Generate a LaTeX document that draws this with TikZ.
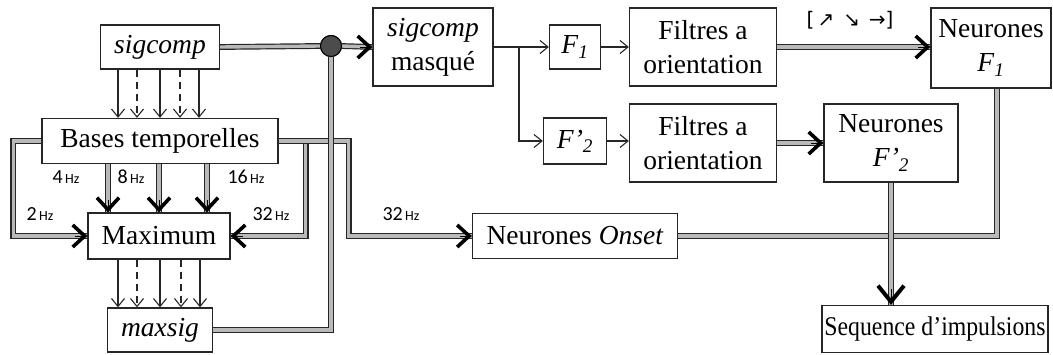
\documentclass[tikz,border=0pt]{standalone}
\usepackage{fontspec}
\setmainfont{Liberation Serif}
\newfontfamily\lblfont{Carlito}
\newfontfamily\symfont{DejaVu Sans}
\usetikzlibrary{arrows.meta,calc}
\newcommand\hzu{{\fontsize{14}{15}\selectfont\,Hz}}
\tikzset{
 box/.style={draw=black!85, line width=1.3pt, inner sep=0pt, align=center, font=\fontsize{27.5}{34}\selectfont},
 thinarr/.style={draw=black!85, line width=1.1pt, -{Straight Barb[length=8pt,width=13pt,line width=1.1pt]}},
 dashedarr/.style={thinarr, dash pattern=on 7pt off 5pt},
 dbl/.style={draw=black!85, line width=1.2pt, double=gray!55, double distance=3.4pt},
 bigtip/.style={draw=black, line width=0.3pt, -{Straight Barb[length=12pt,width=22pt,line width=3.6pt]}},
 hugetip/.style={draw=black, line width=0.3pt, -{Straight Barb[length=16pt,width=26pt,line width=4pt]}},
 lbl/.style={font=\lblfont\fontsize{20}{22}\selectfont, inner sep=0pt},
}
\begin{document}
\begin{tikzpicture}[x=1pt,y=-1pt]
\useasboundingbox (0,0) rectangle (1053,354);
% nodes
\node[box, minimum width=119pt, minimum height=44pt] (sigcomp) at (160,47) {\textit{sigcomp}};
\node[box, minimum width=236pt, minimum height=45pt] (bases) at (160,141) {Bases temporelles};
\node[box, minimum width=142pt, minimum height=46pt] (maximum) at (159,236) {Maximum};
\node[box, minimum width=105pt, minimum height=44pt] (maxsig) at (160,330) {\textit{maxsig}};
\node[box, minimum width=120pt, minimum height=78pt] (masque) at (433,47) {\textit{sigcomp}\\masqué};
\node[box, minimum width=51pt, minimum height=44pt] (F1) at (575,47) {\textit{F}\textsubscript{\textit{1}}};
\node[box, minimum width=147pt, minimum height=78pt] (filt1) at (703,47) {Filtres a\\orientation};
\node[box, minimum width=120pt, minimum height=80pt] (nF1) at (991,48) {Neurones\\\textit{F}\textsubscript{\textit{1}}};
\node[box, minimum width=63pt, minimum height=46pt] (F2) at (575,141) {\textit{F'}\textsubscript{\textit{2}}};
\node[box, minimum width=147pt, minimum height=78pt] (filt2) at (703,143) {Filtres a\\orientation};
\node[box, minimum width=134pt, minimum height=78pt] (nF2) at (891,143) {Neurones\\\textit{F'}\textsubscript{\textit{2}}};
\node[box, minimum width=205pt, minimum height=45pt] (onset) at (575,236) {Neurones \textit{Onset}};
\node[box, minimum width=226pt, minimum height=47pt, font=\fontsize{27}{30}\selectfont] (seq) at (935,329) {\scalebox{0.88}[1]{Sequence d'impulsions}};
% thin arrows
\foreach \x/\s in {118/thinarr,137/dashedarr,160/thinarr,180/dashedarr,199/thinarr}
  \draw[\s] (\x,0 |- sigcomp.south) -- (\x,0 |- bases.north);
\foreach \x/\s in {118/thinarr,137/dashedarr,160/thinarr,181/dashedarr,200/thinarr}
  \draw[\s] (\x,0 |- maximum.south) -- (\x,0 |- maxsig.north);
% bases -> maximum
\draw[dbl] (bases.west) -- ++(-28,0) |- (maximum.west);
\draw[bigtip] ([xshift=-12pt]maximum.west) -- (maximum.west);
\foreach \x in {108,159,207}{
  \draw[dbl] (\x,0 |- bases.south) -- (\x,0 |- maximum.north);
  \draw[bigtip] ($(\x,0 |- maximum.north)+(0,-12)$) -- (\x,0 |- maximum.north);
}
\draw[dbl] (bases.east) -- ++(27,0) |- (maximum.east);
\draw[bigtip] ([xshift=12pt]maximum.east) -- (maximum.east);
\draw[dbl] (bases.east) -- ++(70,0) |- (onset.west);
\draw[bigtip] ([xshift=-12pt]onset.west) -- (onset.west);
% dot
\node[circle, draw=black, fill=black!70, line width=1pt, minimum size=21pt, inner sep=0pt] (dot) at (331,46) {};
\draw[dbl] (maxsig.east) -| (dot.south);
\draw[dbl] (sigcomp.east) -- (dot.west);
\draw[dbl] (dot.east) -- (masque.west);
\draw[bigtip] ([xshift=-12pt]masque.west) -- (masque.west);
\node[circle, draw=black, fill=black!70, line width=1pt, minimum size=21pt, inner sep=0pt] at (dot) {};
% top right
\coordinate (br) at ($(masque.east)!0.46!(F1.west)$);
\draw[thinarr] (masque.east) -- (F1.west);
\draw[thinarr] (br) |- (F2.west);
\draw[thinarr] (F1.east) -- (filt1.west);
\draw[thinarr] (F2.east) -- (F2.east -| filt2.west);
\draw[dbl] (filt1.east) -- (filt1.east -| nF1.west);
\draw[bigtip] ([xshift=-12pt]filt1.east -| nF1.west) -- (filt1.east -| nF1.west);
\node[font=\symfont\fontsize{20}{22}\selectfont, inner sep=0pt] (orient) at (850,20) {[\,↗\;\,↘\;\,→]};
\draw[dbl] (filt2.east) -- (nF2.west);
\draw[bigtip] ([xshift=-12pt]nF2.west) -- (nF2.west);
\coordinate (merge) at (nF2.south |- onset.east);
\draw[dbl] ([xshift=6pt]nF1.south) |- (merge);
\draw[dbl] (onset.east) -- (merge);
\draw[dbl] (nF2.south) -- (nF2.south |- seq.north);
\draw[hugetip] ($(nF2.south |- seq.north)+(0,-16)$) -- (nF2.south |- seq.north);
% labels
\node[lbl] (l4) at (66,177) {4\hzu};
\node[lbl] (l8) at (131,177) {8\hzu};
\node[lbl] (l16) at (246,177) {16\hzu};
\node[lbl] (l2) at (40,214) {2\hzu};
\node[lbl] (l32a) at (271,214) {32\hzu};
\node[lbl] (l32b) at (401,214) {32\hzu};
\end{tikzpicture}
\end{document}
